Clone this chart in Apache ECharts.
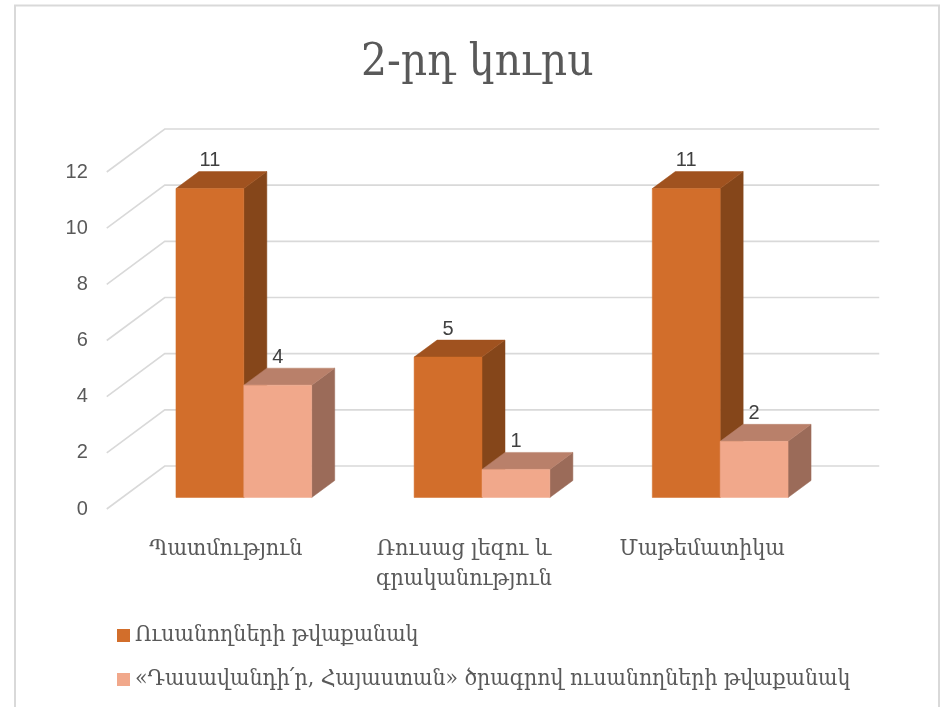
<!DOCTYPE html>
<html>
<head>
<meta charset="utf-8">
<script src="https://cdn.jsdelivr.net/npm/echarts@6/dist/echarts.min.js"></script>
<style>
html,body{margin:0;padding:0;background:#fff;}
#chart{width:942px;height:707px;}
</style>
</head>
<body>
<div id="chart"></div>
<script>
var titleText = '2-րդ կուրս';
var categories = ['Պատմություն', 'Ռուսաց լեզու և\nգրականություն', 'Մաթեմատիկա'];
var seriesNames = ['Ուսանողների թվաքանակ', '«Դասավանդի՛ր, Հայաստան» ծրագրով ուսանողների թվաքանակ'];
var students = [11, 5, 11];
var programStudents = [4, 1, 2];
var yTicks = [0, 2, 4, 6, 8, 10, 12];

var ARM = '"DejaVu Serif Condensed", "DejaVu Serif", serif';
var NUM = '"Liberation Sans", Arial, sans-serif';

// projection offsets (pixels)
var WALL_DX = 58, WALL_DY = -43;   // back wall depth
var BAR_DX = 18, BAR_DY = -11.5;   // bar front face depth
var BAR_DEPTH_X = 23, BAR_DEPTH_Y = -17;
var BAR_FRAC = 0.285;              // bar width as fraction of category band

var palettes = [
  {front: '#D26E2B', top: '#A0521F', side: '#85461A'},
  {front: '#F1A88B', top: '#B9806A', side: '#9B6B59'}
];

function barRender(seriesIdx) {
  return function (params, api) {
    var ci = api.value(0), v = api.value(1);
    var base = api.coord([ci, 0]);
    var topP = api.coord([ci, v]);
    var band = api.size([1, 0])[0];
    var w = band * BAR_FRAC;
    var cx = base[0] + BAR_DX;
    var x0 = seriesIdx === 0 ? cx - w : cx;
    var x1 = x0 + w;
    var yb = base[1] + BAR_DY;
    var yt = topP[1] + BAR_DY;
    var dx = BAR_DEPTH_X, dy = BAR_DEPTH_Y;
    var pal = palettes[seriesIdx];
    return {
      type: 'group',
      children: [
        {type: 'polygon', shape: {points: [[x1, yt], [x1 + dx, yt + dy], [x1 + dx, yb + dy], [x1, yb]]},
          style: {fill: pal.side, stroke: pal.side, lineWidth: 0.5}},
        {type: 'polygon', shape: {points: [[x0, yt], [x0 + dx, yt + dy], [x1 + dx, yt + dy], [x1, yt]]},
          style: {fill: pal.top, stroke: pal.top, lineWidth: 0.5}},
        {type: 'rect', shape: {x: x0, y: yt, width: w, height: yb - yt},
          style: {fill: pal.front, stroke: pal.front, lineWidth: 0.5}},
        {type: 'text', x: (x0 + x1) / 2, y: yt + dy - 1,
          style: {text: String(v), fill: '#404040', font: '20px ' + NUM, textAlign: 'center', textVerticalAlign: 'bottom'}}
      ]
    };
  };
}

function gridRender(params, api) {
  var v = api.value(0);
  var cs = params.coordSys;
  var p = api.coord([0, v]);
  var xl = cs.x, xr = cs.x + cs.width;
  var y = p[1];
  return {
    type: 'polyline',
    shape: {points: [[xl, y], [xl + WALL_DX, y + WALL_DY], [xr + WALL_DX, y + WALL_DY]]},
    style: {stroke: '#D9D9D9', lineWidth: 1.6, fill: null}
  };
}

var chart = echarts.init(document.getElementById('chart'));
chart.setOption({
  backgroundColor: '#fff',
  animation: false,
  title: {
    text: titleText, left: 356, top: 35,
    textStyle: {fontFamily: ARM, fontSize: 45.5, fontWeight: 'normal', color: '#595959'}
  },
  legend: {
    orient: 'vertical', left: 112, top: 619, itemWidth: 13, itemHeight: 13, itemGap: 21,
    icon: 'rect',
    textStyle: {fontFamily: ARM, fontSize: 22.8, color: '#595959'},
    data: [
      {name: seriesNames[0], itemStyle: {color: palettes[0].front}},
      {name: seriesNames[1], itemStyle: {color: palettes[1].front}}
    ]
  },
  grid: {left: 106.75, right: 120.75, top: 172, bottom: 198},
  xAxis: {
    type: 'category', data: categories,
    axisLine: {show: false}, axisTick: {show: false}, splitLine: {show: false},
    axisLabel: {margin: 25, fontFamily: ARM, fontSize: 23, color: '#595959', lineHeight: 30, interval: 0}
  },
  yAxis: {
    type: 'value', min: 0, max: 12, interval: 2,
    axisLine: {show: false}, axisTick: {show: false}, splitLine: {show: false},
    axisLabel: {margin: 19, fontFamily: NUM, fontSize: 20, color: '#595959'}
  },
  series: [
    {type: 'custom', name: '_grid', renderItem: gridRender, data: yTicks.map(function (t) { return [t]; }),
      encode: {y: 0}, silent: true, z: 1},
    {type: 'custom', name: seriesNames[0], renderItem: barRender(0), itemStyle: {color: palettes[0].front},
      data: students.map(function (v, i) { return [i, v]; }), encode: {x: 0, y: 1}, z: 3},
    {type: 'custom', name: seriesNames[1], renderItem: barRender(1), itemStyle: {color: palettes[1].front},
      data: programStudents.map(function (v, i) { return [i, v]; }), encode: {x: 0, y: 1}, z: 4}
  ],
  graphic: [
    {type: 'rect', shape: {x: 15, y: 5.5, width: 924, height: 720}, style: {fill: null, stroke: '#D9D9D9', lineWidth: 2}, silent: true, z: 0}
  ]
});
</script>
</body>
</html>
